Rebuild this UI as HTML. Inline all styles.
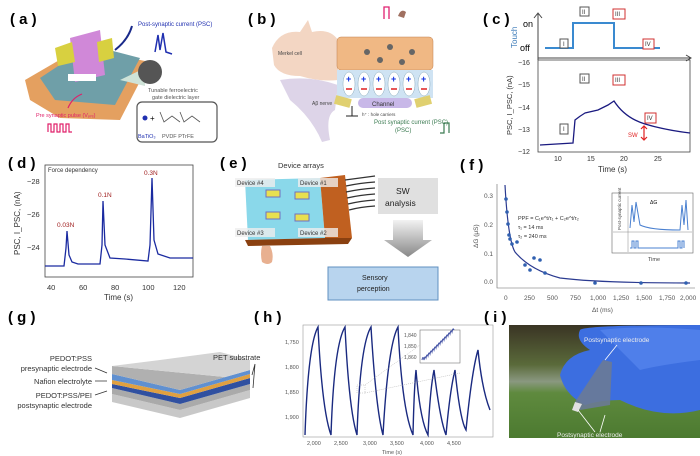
<!DOCTYPE html>
<html><head><meta charset="utf-8"><style>
body{margin:0;background:#fff;}
svg{display:block;font-family:"Liberation Sans",sans-serif;}
.lb{font-size:15px;font-weight:bold;}
.t{font-size:8px;fill:#333}
</style></head><body>
<svg width="700" height="456" viewBox="0 0 700 456">
<defs>
<linearGradient id="arr" x1="0" y1="0" x2="0" y2="1"><stop offset="0" stop-color="#f2f2f2"/><stop offset="1" stop-color="#888"/></linearGradient>
<linearGradient id="bg" x1="0" y1="0" x2="0" y2="1"><stop offset="0" stop-color="#3a3424"/><stop offset="0.35" stop-color="#5a6a3a"/><stop offset="0.5" stop-color="#8a9880"/><stop offset="0.6" stop-color="#5f8a3e"/><stop offset="1" stop-color="#4c7a30"/></linearGradient>
</defs>
<!-- (a) -->
<text x="10" y="24" class="lb">( a )</text>
<polygon points="25,80 80,48 150,62 120,120 60,118 30,100" fill="#e4a060"/>
<polygon points="40,78 90,45 140,58 115,105 55,100" fill="#6f9fa8"/>
<polygon points="70,38 100,30 105,75 75,82" fill="#d088d8"/>
<polygon points="55,48 72,42 75,62 58,66" fill="#d8d040"/>
<polygon points="97,42 112,38 114,58 99,62" fill="#d8d040"/>
<rect x="68" y="74" width="28" height="7" fill="#fff"/>
<path d="M115,50 Q128,40 132,26" stroke="#1a2a8a" stroke-width="2" fill="none"/>
<text x="138" y="26" font-size="6" fill="#2030b0">Post-synaptic current (PSC)</text>
<path d="M155,52 L158,35 L160,50 L163,33 L166,52 L172,54" stroke="#2030b0" stroke-width="1.5" fill="none"/>
<polygon points="120,80 145,68 145,86" fill="#cfe3d8"/>
<circle cx="150" cy="72" r="12" fill="#555"/>
<text x="148" y="92" font-size="5.5" fill="#555">Tunable ferroelectric</text>
<text x="152" y="99" font-size="5.5" fill="#555">gate dielectric layer</text>
<rect x="137" y="102" width="80" height="40" rx="5" fill="#fff" stroke="#555" stroke-width="1.2"/>
<circle cx="145" cy="118" r="2.5" fill="#2030b0"/>
<text x="150" y="121" font-size="8">+</text>
<path d="M160,112 l4,10 l8,-6 l8,6 M180,112 l4,10 l8,-6 l8,6" stroke="#555" stroke-width="0.8" fill="none"/>
<text x="138" y="138" font-size="5.5" fill="#2030b0">BaTiO₃</text>
<text x="162" y="138" font-size="5.5" fill="#555">PVDF   PTrFE</text>
<path d="M68,108 Q72,98 82,94" stroke="#e0206a" stroke-width="1.2" fill="none"/>
<text x="36" y="117" font-size="5.5" fill="#e0206a">Pre synaptic pulse (Vₚᵣₑ)</text>
<path d="M48,132 v-8 h3 v8 h3 v-8 h3 v8 h3 v-8 h3 v8 h3 v-8 h3 v8 h3" stroke="#e0206a" stroke-width="1.2" fill="none"/>
<!-- (b) -->
<text x="248" y="24" class="lb">( b )</text>
<path d="M272,48 Q280,30 300,32 L308,20 L312,32 Q330,28 338,40 L338,80 Q320,82 300,76 Q280,76 274,65 Z" fill="#f3d6c3"/>
<path d="M280,80 Q310,75 338,85 L335,110 Q325,115 330,140 L322,142 Q312,118 290,100 Z" fill="#ddd4e8"/>
<text x="278" y="55" font-size="5" fill="#444">Merkel cell</text>
<text x="312" y="105" font-size="5" fill="#444">Aβ nerve</text>
<rect x="337" y="37" width="96" height="33" rx="4" fill="#f0b884" stroke="#c08050" stroke-width="0.5"/>
<g fill="#666"><circle cx="367" cy="52" r="3"/><circle cx="390" cy="47" r="3"/><circle cx="412" cy="52" r="3"/><circle cx="380" cy="60" r="3"/><circle cx="402" cy="62" r="3"/></g>
<rect x="337" y="70" width="96" height="28" fill="#cfe3f3"/>
<g fill="#fff" stroke="#8ab" stroke-width="0.5">
<ellipse cx="349" cy="84" rx="6" ry="12"/><ellipse cx="364" cy="84" rx="6" ry="12"/><ellipse cx="379" cy="84" rx="6" ry="12"/><ellipse cx="394" cy="84" rx="6" ry="12"/><ellipse cx="409" cy="84" rx="6" ry="12"/><ellipse cx="424" cy="84" rx="6" ry="12"/></g>
<g font-size="9" font-weight="bold" fill="#1030e0"><text x="346" y="82">+</text><text x="361" y="82">+</text><text x="376" y="82">+</text><text x="391" y="82">+</text><text x="406" y="82">+</text><text x="421" y="82">+</text></g>
<g stroke="#e02020" stroke-width="1.5"><path d="M346,89h6M361,89h6M376,89h6M391,89h6M406,89h6M421,89h6"/></g>
<rect x="335" y="97" width="16" height="9" fill="#e0d070" transform="rotate(15 343 101)"/>
<rect x="415" y="97" width="16" height="9" fill="#e0d070" transform="rotate(-15 423 101)"/>
<rect x="358" y="98" width="54" height="10" rx="5" fill="#c8b8e8"/>
<text x="372" y="106" font-size="6" fill="#333">Channel</text>
<text x="362" y="116" font-size="4.5" fill="#444">h⁺ : hole carriers</text>
<path d="M352,106 v10 M346,116 h12" stroke="#222" stroke-width="1"/>
<path d="M384,19 v-12 h5 v12" stroke="#e02070" stroke-width="1.3" fill="none"/>
<path d="M398,16 q3,-8 8,-4 l-2,6 z" fill="#a07060"/>
<text x="374" y="124" font-size="6" fill="#3a7a50">Post synaptic current (PSC)</text>
<text x="395" y="132" font-size="6" fill="#3a7a50">(PSC)</text>
<path d="M440,133 h4 v-10 h5 v10" stroke="#3a7a50" stroke-width="1.2" fill="none"/>
<!-- (c) -->
<text x="483" y="24" class="lb">( c )</text>
<path d="M538,60 V14 M534,18 L538,13 L542,18 M538,58 H690 M686,55 L691,58 L686,61" stroke="#444" stroke-width="1" fill="none"/>
<text x="523" y="27" font-size="9">on</text><text x="520" y="51" font-size="9">off</text>
<text x="517" y="48" font-size="8" fill="#3a7ab8" transform="rotate(-90 517 48)">Touch</text>
<path d="M545,48 H573 V23 H614 V48 H660" stroke="#3a8ad0" stroke-width="2" fill="none"/>
<rect x="538" y="60" width="152" height="92" fill="none" stroke="#444" stroke-width="0.8"/>
<g font-size="7" fill="#333"><text x="518" y="65">−16</text><text x="518" y="87">−15</text><text x="518" y="110">−14</text><text x="518" y="132">−13</text><text x="518" y="154">−12</text>
<text x="554" y="161">10</text><text x="587" y="161">15</text><text x="620" y="161">20</text><text x="654" y="161">25</text><text x="598" y="172" font-size="8">Time (s)</text></g>
<text x="512" y="135" font-size="7.5" fill="#333" transform="rotate(-90 512 135)">PSC, I_PSC, (nA)</text>
<path d="M540,145 L573,143 L575,120 Q580,116 585,113 L598,110 L608,105 L614,101 Q625,118 645,124 Q665,130 690,133" stroke="#1a1a80" stroke-width="1.3" fill="none"/>
<g font-size="6" fill="#333"><rect x="560" y="39" width="8" height="9" fill="#fff" stroke="#555"/><text x="563" y="46">I</text>
<rect x="580" y="7" width="9" height="9" fill="#fff" stroke="#555"/><text x="582" y="14">II</text>
<rect x="613" y="9" width="12" height="10" fill="#fff" stroke="#d03030"/><text x="615" y="16">III</text>
<rect x="643" y="39" width="11" height="10" fill="#fff" stroke="#d03030"/><text x="645" y="46">IV</text>
<rect x="580" y="74" width="9" height="9" fill="#fff" stroke="#555"/><text x="582" y="81">II</text>
<rect x="613" y="75" width="12" height="10" fill="#fff" stroke="#d03030"/><text x="615" y="82">III</text>
<rect x="560" y="124" width="8" height="10" fill="#fff" stroke="#555"/><text x="563" y="131">I</text>
<rect x="645" y="113" width="11" height="10" fill="#fff" stroke="#d03030"/><text x="647" y="120">IV</text></g>
<text x="628" y="137" font-size="6" fill="#e02020">SW</text>
<path d="M644,126 V140 M641,129 l3,-3 l3,3 M641,137 l3,3 l3,-3" stroke="#e02020" stroke-width="1.2" fill="none"/>
<!-- (d) -->
<text x="8" y="168" class="lb">( d )</text>
<rect x="45" y="165" width="148" height="112" fill="none" stroke="#444" stroke-width="0.8"/>
<text x="48" y="172" font-size="6" fill="#333">Force dependency</text>
<g font-size="7.5" fill="#333"><text x="27" y="184">−28</text><text x="27" y="217">−26</text><text x="27" y="250">−24</text>
<text x="47" y="290">40</text><text x="79" y="290">60</text><text x="111" y="290">80</text><text x="142" y="290">100</text><text x="173" y="290">120</text>
<text x="104" y="300" font-size="8">Time (s)</text></g>
<text x="20" y="255" font-size="8" fill="#333" transform="rotate(-90 20 255)">PSC, I_PSC, (nA)</text>
<path d="M45,266 L64,266 L66,248 L67,231 L69,255 L72,262 L78,264 L100,264 L102,245 L103,201 L105,245 L110,258 L125,259 L148,261 L150,245 L152,178 L154,240 L158,254 L170,258 L193,258" stroke="#1a2aa0" stroke-width="1.3" fill="none"/>
<g font-size="6.5" fill="#a02020"><text x="57" y="227">0.03N</text><text x="98" y="197">0.1N</text><text x="144" y="175">0.3N</text></g>
<!-- (e) -->
<text x="220" y="168" class="lb">( e )</text>
<text x="278" y="168" font-size="7.5" fill="#333">Device arrays</text>
<polygon points="245,180 320,178 325,238 248,240" fill="#8ad8ea"/>
<polygon points="320,178 345,175 352,238 325,238" fill="#c06020"/>
<polygon points="245,240 325,238 352,238 348,244 248,246" fill="#8a4010"/>
<g stroke="#333" stroke-width="1.3" fill="none"><path d="M345,180 Q360,178 375,176"/><path d="M346,186 Q360,183 375,182"/><path d="M346,192 Q360,189 375,188"/><path d="M347,198 Q360,195 375,194"/><path d="M348,204 Q360,201 375,200"/><path d="M349,210 Q360,207 375,206"/></g>
<g fill="#e8e050" stroke="#7070c0" stroke-width="1"><rect x="266" y="190" width="14" height="7"/><rect x="295" y="192" width="14" height="7"/><rect x="266" y="212" width="14" height="7"/><rect x="295" y="214" width="14" height="7"/></g>
<g font-size="6" fill="#333"><rect x="235" y="178" width="40" height="9" fill="#eee" opacity="0.8"/><text x="237" y="185">Device #4</text>
<rect x="298" y="178" width="40" height="9" fill="#eee" opacity="0.8"/><text x="300" y="185">Device #1</text>
<rect x="235" y="228" width="40" height="9" fill="#eee" opacity="0.8"/><text x="237" y="235">Device #3</text>
<rect x="298" y="228" width="40" height="9" fill="#eee" opacity="0.8"/><text x="300" y="235">Device #2</text></g>
<path d="M262,246 q-2,8 0,16 q6,4 10,0 q2,-8 -2,-16 Z" fill="#e8b090"/>
<rect x="378" y="178" width="60" height="36" fill="#e0e0e0"/>
<text x="396" y="194" font-size="8.5" fill="#222">SW</text><text x="385" y="206" font-size="8.5" fill="#222">analysis</text>
<polygon points="393,220 423,220 423,240 432,240 408,257 384,240 393,240" fill="url(#arr)"/>
<rect x="328" y="267" width="110" height="33" fill="#b8d4ee" stroke="#6090c0" stroke-width="1"/>
<text x="362" y="280" font-size="7" fill="#222">Sensory</text><text x="357" y="291" font-size="7" fill="#222">perception</text>
<!-- (f) -->
<text x="460" y="170" class="lb">( f )</text>
<path d="M497,184 V288 H695" stroke="#666" stroke-width="0.6" fill="none"/>
<g font-size="6.5" fill="#555"><text x="484" y="198">0.3</text><text x="484" y="227">0.2</text><text x="484" y="256">0.1</text><text x="484" y="284">0.0</text>
<text x="504" y="300">0</text><text x="524" y="300">250</text><text x="547" y="300">500</text><text x="570" y="300">750</text><text x="590" y="300">1,000</text><text x="613" y="300">1,250</text><text x="636" y="300">1,500</text><text x="659" y="300">1,750</text><text x="680" y="300">2,000</text>
<text x="592" y="312">Δt (ms)</text></g>
<text x="478" y="248" font-size="6.5" fill="#555" transform="rotate(-90 478 248)">ΔG (μS)</text>
<path d="M505,185 Q508,240 515,252 Q530,270 560,278 Q600,283 690,283" stroke="#2a3a90" stroke-width="1.2" fill="none"/>
<g fill="#3060b0"><circle cx="506" cy="199" r="1.8"/><circle cx="507" cy="212" r="1.8"/><circle cx="508" cy="224" r="1.8"/><circle cx="509" cy="235" r="1.8"/><circle cx="510" cy="239" r="1.8"/><circle cx="512" cy="244" r="1.8"/><circle cx="517" cy="242" r="1.8"/><circle cx="525" cy="265" r="1.8"/><circle cx="530" cy="270" r="1.8"/><circle cx="534" cy="258" r="1.8"/><circle cx="540" cy="260" r="1.8"/><circle cx="545" cy="273" r="1.8"/><circle cx="595" cy="283" r="1.8"/><circle cx="641" cy="283" r="1.8"/><circle cx="686" cy="283" r="1.8"/></g>
<g font-size="5.5" fill="#333"><text x="518" y="220">PPF = C₁e^t/τ₁ + C₂e^t/τ₂</text><text x="518" y="229">τ₁ = 14 ms</text><text x="518" y="238">τ₂ = 240 ms</text></g>
<rect x="612" y="193" width="81" height="60" fill="#fff" stroke="#666" stroke-width="0.6"/>
<path d="M613,232 H692 M628,196 V252" stroke="#888" stroke-width="0.5"/>
<path d="M630,228 L632,205 L634,222 L636,202 L640,225 Q650,230 680,230 L682,205 L684,225 L686,200 L688,230" stroke="#4a80d0" stroke-width="1" fill="none"/>
<path d="M630,248 h2 v-7 h2 v7 h2 v-7 h2 v7 h40 v-7 h2 v7 h2 v-7 h2 v7" stroke="#4a80d0" stroke-width="1" fill="none"/>
<text x="650" y="204" font-size="5">ΔG</text>
<text x="648" y="261" font-size="5.5" fill="#444">Time</text>
<text x="621" y="230" font-size="4.5" fill="#444" transform="rotate(-90 621 230)">Post-synaptic current</text>
<!-- (g) -->
<text x="8" y="322" class="lb">( g )</text>
<polygon points="112,394 180,410 250,390 250,398 180,418 112,402" fill="#c8c8c8"/>
<polygon points="112,388 180,404 250,384 250,390 180,410 112,394" fill="#aaa"/>
<polygon points="112,384 180,398 250,378 250,384 180,404 112,388" fill="#3050a0"/>
<polygon points="112,380 180,394 250,374 250,378 180,398 112,384" fill="#e0a040"/>
<polygon points="112,374 180,390 250,370 250,374 180,394 112,380" fill="#6090d0"/>
<polygon points="112,366 225,377 250,370 180,390 112,374" fill="#b0b0b0"/>
<polygon points="112,366 160,360 220,352 250,360 250,370 225,377" fill="#d4d4d4"/>
<g font-size="7.5" fill="#333" text-anchor="end"><text x="92" y="361">PEDOT:PSS</text><text x="92" y="371">presynaptic electrode</text><text x="92" y="384">Nafion electrolyte</text><text x="92" y="398">PEDOT:PSS/PEI</text><text x="92" y="408">postsynaptic electrode</text></g>
<text x="213" y="360" font-size="7.5" fill="#333">PET substrate</text>
<path d="M95,368 L107,373 M95,381 L107,381 M95,395 L107,391 M255,364 L252,375 M255,364 L253,388" stroke="#333" stroke-width="0.8"/>
<!-- (h) -->
<text x="254" y="322" class="lb">( h )</text>
<rect x="303" y="325" width="190" height="112" fill="none" stroke="#999" stroke-width="0.6"/>
<g font-size="5.5" fill="#555"><text x="285" y="344">1,750</text><text x="285" y="369">1,800</text><text x="285" y="394">1,850</text><text x="285" y="419">1,900</text>
<text x="307" y="445">2,000</text><text x="334" y="445">2,500</text><text x="363" y="445">3,000</text><text x="390" y="445">3,500</text><text x="420" y="445">4,000</text><text x="447" y="445">4,500</text><text x="382" y="454">Time (s)</text></g>
<path d="M305,435 Q308,345 318,327 Q322,410 331,435 Q334,345 345,327 Q349,410 357,435 Q360,345 371,327 Q376,410 383,435 Q388,345 398,327 Q402,410 413,435 Q414,390 416,370 Q420,420 428,435 Q430,390 434,370 Q440,420 446,435 Q450,390 455,370 Q460,420 466,430 Q472,370 478,350 Q482,390 490,410" stroke="#1a2a80" stroke-width="1.4" fill="none"/>
<rect x="420" y="330" width="40" height="33" fill="#fff" stroke="#777" stroke-width="0.6"/>
<g font-size="5" fill="#555"><text x="404" y="337">1,840</text><text x="404" y="348">1,850</text><text x="404" y="359">1,860</text></g>
<path d="M422,360 q1,-5 2,0 q1,-5 2,-2 q1,-5 2,-2 q1,-5 2,-2 q1,-5 2,-2 q1,-5 2,-2 q1,-5 2,-2 q1,-5 2,-2 q1,-5 2,-2 q1,-5 2,-2 q1,-5 2,-2 q1,-5 2,-2 q1,-5 2,-2 q1,-5 2,-2 q1,-5 2,-2 q1,-5 2,-2" stroke="#3a4aa0" stroke-width="1" fill="none"/>
<rect x="357" y="385" width="8" height="8" fill="none" stroke="#aaa" stroke-width="0.5" stroke-dasharray="1,1"/>
<path d="M365,385 L420,345 M365,393 L460,373" stroke="#aaa" stroke-width="0.5" stroke-dasharray="1,1"/>
<!-- (i) -->
<text x="484" y="322" class="lb">( i )</text>
<rect x="509" y="325" width="191" height="113" fill="url(#bg)"/>
<path d="M580,330 Q585,325 700,325 L700,410 Q660,420 620,400 Q600,400 585,405 Q565,395 560,375 Q565,355 590,350 Q575,340 580,330 Z" fill="#3c6ee0"/>
<path d="M600,330 Q640,325 700,330 L700,360 Q660,365 640,370 Z" fill="#5c8af0" opacity="0.6"/>
<polygon points="603,360 612,362 610,405 580,410 575,402" fill="#6a7a96" opacity="0.9"/>
<polygon points="575,402 582,404 578,412 572,410" fill="#e0e0e0"/>
<text x="584" y="342" font-size="6.5" fill="#eee">Postsynaptic electrode</text>
<text x="557" y="437" font-size="6.5" fill="#eee">Postsynaptic electrode</text>
<path d="M617,345 L605,360 M595,432 L578,410 M600,432 L605,415" stroke="#fff" stroke-width="0.8"/>
</svg>
</body></html>
